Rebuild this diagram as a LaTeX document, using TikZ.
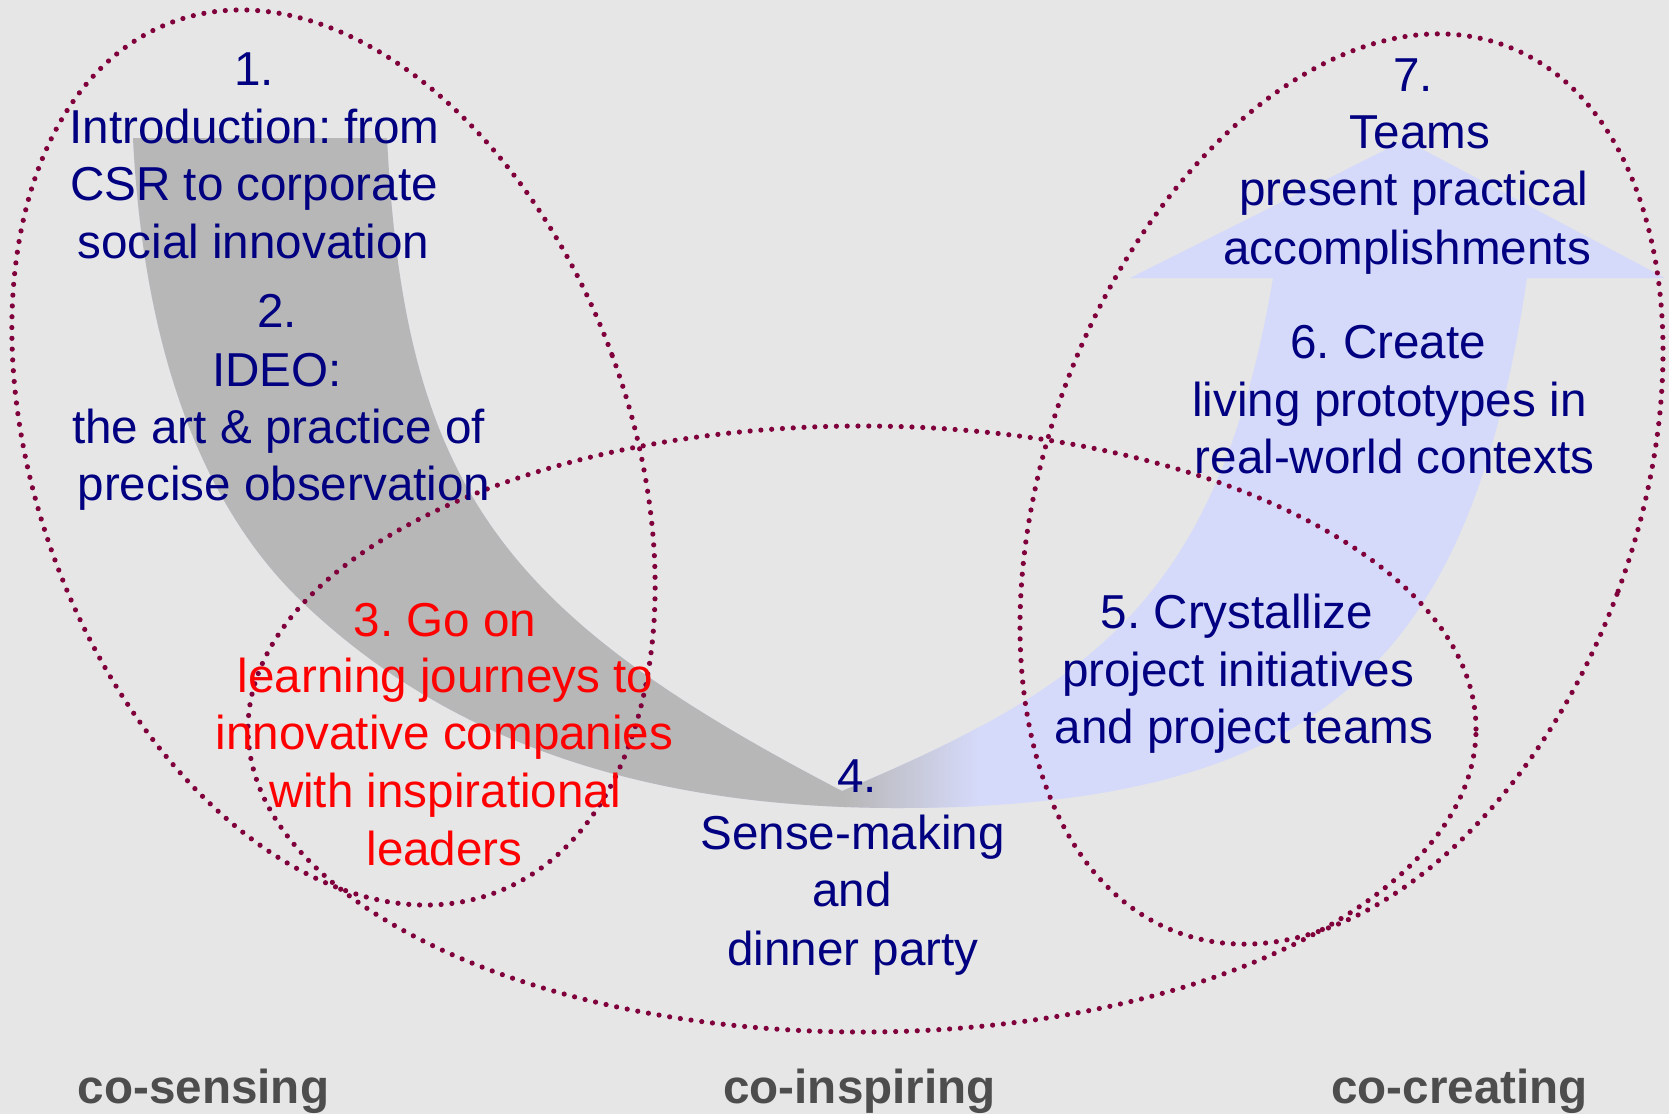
\documentclass[tikz,border=0pt]{standalone}
\usepackage{fontspec}
\setmainfont{Liberation Sans}
\frenchspacing
\definecolor{bgc}{RGB}{230,230,230}
\definecolor{navy}{RGB}{0,0,128}
\definecolor{dotc}{RGB}{128,0,60}
\definecolor{bandgray}{RGB}{183,183,183}
\definecolor{bandblue}{RGB}{214,218,250}
\definecolor{lblgray}{RGB}{77,77,77}
\newcommand\bandshape{(133,138) .. controls (143,338) and (196,496) .. (296,596) .. controls (446,743) and (647,808) .. (897,808) .. controls (1337,808) and (1471.5,648) .. (1527,278) -- (1665,278) -- (1405,140) -- (1130,278) -- (1273,278) .. controls (1218.6,598) and (1092,686) .. (842,791) .. controls (502,614) and (404.5,488) .. (387,138) -- cycle}
\begin{document}
\begin{tikzpicture}[x=0.5pt,y=-0.5pt,
  txt/.style={font=\fontsize{23.8}{29}\selectfont, inner sep=0pt, anchor=base, text=navy},
  redtxt/.style={txt, text=red},
  lbl/.style={font=\fontsize{23.8}{29}\selectfont\bfseries, inner sep=0pt, anchor=base, text=lblgray},
  dotline/.style={draw=dotc, line width=2.6pt, dash pattern=on 0pt off 5.4pt, line cap=round}]
\fill[bgc] (0,0) rectangle (1669,1114);
\useasboundingbox (0,0) rectangle (1669,1114);
% curved band arrow
\fill[bandblue] \bandshape;
\begin{scope}
  \clip \bandshape;
  \fill[bandgray] (0,0) rectangle (845,1114);
  \shade[left color=bandgray, right color=bandblue] (844,0) rectangle (980,1114);
\end{scope}
% dotted ellipses
\draw[dotline, rotate around={20.3:(333.5,457.5)}] (333.5,457.5) ellipse [x radius=148.4pt, y radius=232.15pt];
\draw[dotline] (862,729) ellipse [x radius=307pt, y radius=151.5pt];
\draw[dotline, rotate around={-20.27:(1341.5,489)}] (1341.5,489) ellipse [x radius=147.45pt, y radius=236.35pt];
% block 1
\node[txt] (b1a) at (254,85) {1.};
\node[txt] (b1b) at (254.5,143) {Introduction: from};
\node[txt] (b1c) at (254,200.5) {CSR to corporate};
\node[txt] (b1d) at (253.5,258) {social innovation};
% block 2
\node[txt] (b2a) at (277,327) {2.};
\node[txt] (b2b) at (277,386) {IDEO:};
\node[txt] (b2c) at (278.5,443) {the art \& practice of};
\node[txt] (b2d) at (284,500) {precise observation};
% block 3
\node[redtxt] (b3a) at (445,636) {3. Go on};
\node[redtxt] (b3b) at (445.5,692) {learning journeys to};
\node[redtxt] (b3c) at (444.5,749) {innovative companies};
\node[redtxt] (b3d) at (445,807) {with inspirational};
\node[redtxt] (b3e) at (444.5,865) {leaders};
% block 4
\node[txt] (b4a) at (857,792) {4.};
\node[txt] (b4b) at (852.5,849) {Sense-making};
\node[txt] (b4c) at (852,906) {and};
\node[txt] (b4d) at (853,965) {dinner party};
% block 5
\node[txt] (b5a) at (1237,628) {5. Crystallize};
\node[txt] (b5b) at (1238,686) {project initiatives};
\node[txt] (b5c) at (1244,743) {and project teams};
% block 6
\node[txt] (b6a) at (1388,358) {6. Create};
\node[txt] (b6b) at (1389.5,416) {living prototypes in};
\node[txt] (b6c) at (1394.5,473) {real-world contexts};
% block 7
\node[txt] (b7a) at (1413,91) {7.};
\node[txt] (b7b) at (1420,148) {Teams};
\node[txt] (b7c) at (1414,205) {present practical};
\node[txt] (b7d) at (1407,264) {accomplishments};
% bottom labels
\node[lbl] (l1) at (203.5,1103) {co-sensing};
\node[lbl] (l2) at (859.5,1103) {co-inspiring};
\node[lbl] (l3) at (1459.5,1103) {co-creating};
\end{tikzpicture}
\end{document}
